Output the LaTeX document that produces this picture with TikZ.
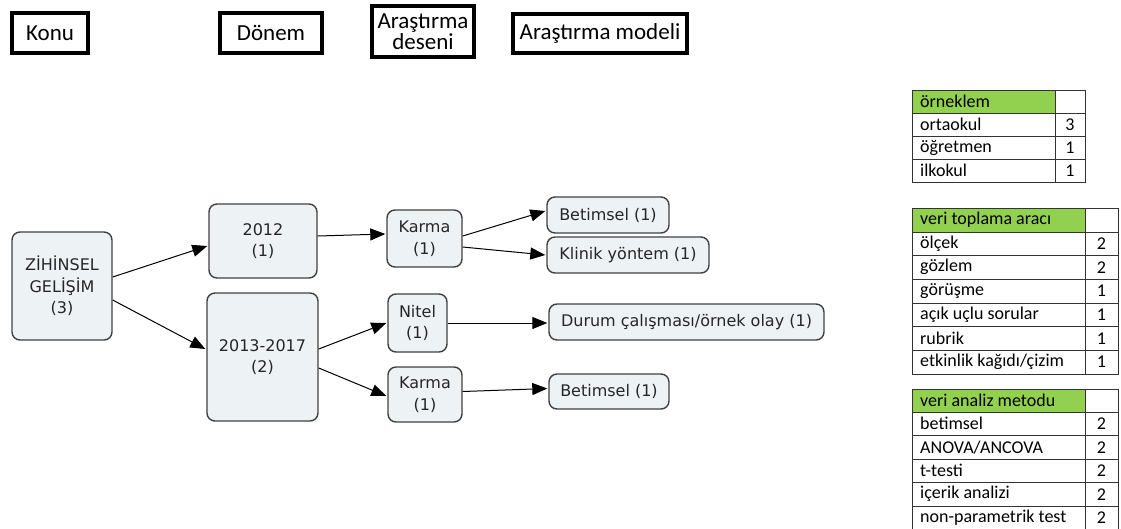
\documentclass[tikz,border=0pt]{standalone}
\usepackage{fontspec}
\setmainfont{Carlito}
\newfontfamily\nodefont{DejaVu Sans}
\usetikzlibrary{arrows.meta,calc}
\definecolor{nodefill}{HTML}{EDF2F5}
\definecolor{nodeline}{HTML}{404040}
\definecolor{hdrgreen}{HTML}{92D050}
\begin{document}
\begin{tikzpicture}[x=1pt,y=-1pt,
  hdrbox/.style={draw=black,line width=3.8pt,inner sep=0pt,font=\fontsize{23}{24}\selectfont,align=center},
  concept/.style={draw=nodeline,fill=nodefill,line width=1.4pt,rounded corners=8pt,inner sep=0pt,align=center,text=black!85,font=\nodefont\fontsize{16}{21.5}\selectfont},
  link/.style={line width=1pt,-{Triangle[length=15pt,width=12pt]}},
  cell/.style={draw=black!80,line width=1pt},
  celltext/.style={anchor=west,inner sep=0pt,font=\fontsize{18}{19}\selectfont},
  cellnum/.style={inner sep=0pt,font=\fontsize{18}{19}\selectfont}]
\useasboundingbox (0,0) rectangle (1121,528);

% header boxes
\node[hdrbox,minimum width=76pt,minimum height=40pt] (konu) at (50,33) {Konu};
\node[hdrbox,minimum width=102pt,minimum height=40pt] (donem) at (271,33) {Dönem};
\node[hdrbox,minimum width=102pt,minimum height=51pt] (desen) at (423,31.5) {Araştırma\\[-3pt]deseni};
\node[hdrbox,minimum width=174pt,minimum height=39pt] (model) at (600,33.5) {Araştırma modeli};

% concept nodes
\node[concept,minimum width=100pt,minimum height=108pt] (zg) at (62,286) {ZİHİNSEL\\GELİŞİM\\(3)};
\node[concept,minimum width=108pt,minimum height=74pt] (d1) at (263,241) {2012\\(1)};
\node[concept,minimum width=111pt,minimum height=128pt] (d2) at (262.5,357) {2013-2017\\(2)};
\node[concept,minimum width=75pt,minimum height=57pt] (k1) at (424.5,238.5) {Karma\\(1)};
\node[concept,minimum width=59pt,minimum height=58pt] (nit) at (417.5,323) {Nitel\\(1)};
\node[concept,minimum width=74pt,minimum height=55pt] (k2) at (425,394.5) {Karma\\(1)};
\node[concept,minimum width=122pt,minimum height=36pt] (b1) at (608,215) {Betimsel (1)};
\node[concept,minimum width=162pt,minimum height=36pt] (kl) at (628,255) {Klinik yöntem (1)};
\node[concept,minimum width=275pt,minimum height=36pt] (du) at (686.5,322) {Durum çalışması/örnek olay (1)};
\node[concept,minimum width=120pt,minimum height=35pt] (b2) at (609,391.5) {Betimsel (1)};

% connectors
\draw[link] ($(zg.east)+(0,-9)$) -- ($(d1.west)+(-1,5)$);
\draw[link] ($(zg.east)+(0,14)$) -- ($(d2.west)+(-1,-8)$);
\draw[link] ($(d1.east)+(0,-5)$) -- ($(k1.west)+(-1,-4.5)$);
\draw[link] ($(k1.east)+(0,-2.5)$) -- ($(b1.west)+(-1,-4)$);
\draw[link] ($(k1.east)+(0,8.5)$) -- ($(kl.west)+(-1,0)$);
\draw[link] ($(d2.east)+(0,-8)$) -- ($(nit.west)+(-1,0)$);
\draw[link] ($(d2.east)+(0,11)$) -- ($(k2.west)+(-1,1.5)$);
\draw[link] (nit.east) -- ($(du.west)+(-1,1)$);
\draw[link] ($(k2.east)+(0,-3)$) -- ($(b2.west)+(-1,-3)$);

% table 1: örneklem
\fill[hdrgreen] (912,90) rectangle (1055,113);
\foreach \ya/\yb in {90/113,113/136,136/159,159/182}{
  \draw[cell] (912,\ya) rectangle (1055,\yb);
  \draw[cell] (1055,\ya) rectangle (1085,\yb);
}
\node[celltext] (t1h) at (920,101.5) {örneklem};
\node[celltext] (t1a) at (920,124.5) {ortaokul};
\node[cellnum] (t1an) at (1070,124.5) {3};
\node[celltext] (t1b) at (920,147.5) {öğretmen};
\node[cellnum] (t1bn) at (1070,147.5) {1};
\node[celltext] (t1c) at (920,170.5) {ilkokul};
\node[cellnum] (t1cn) at (1070,170.5) {1};

% table 2: veri toplama aracı
\fill[hdrgreen] (912,208) rectangle (1085,232);
\foreach \ya/\yb in {208/232,232/255.5,255.5/279,279/303,303/326.5,326.5/350,350/374}{
  \draw[cell] (912,\ya) rectangle (1085,\yb);
  \draw[cell] (1085,\ya) rectangle (1118,\yb);
}
\node[celltext] (t2h) at (920,220) {veri toplama aracı};
\node[celltext] (t2a) at (920,243.75) {ölçek};
\node[cellnum] (t2an) at (1101.5,243.75) {2};
\node[celltext] (t2b) at (920,267.25) {gözlem};
\node[cellnum] (t2bn) at (1101.5,267.25) {2};
\node[celltext] (t2c) at (920,291) {görüşme};
\node[cellnum] (t2cn) at (1101.5,291) {1};
\node[celltext] (t2d) at (920,314.75) {açık uçlu sorular};
\node[cellnum] (t2dn) at (1101.5,314.75) {1};
\node[celltext] (t2e) at (920,338.25) {rubrik};
\node[cellnum] (t2en) at (1101.5,338.25) {1};
\node[celltext] (t2f) at (920,362) {etkinlik kağıdı/çizim};
\node[cellnum] (t2fn) at (1101.5,362) {1};

% table 3: veri analiz metodu
\fill[hdrgreen] (912,389) rectangle (1085,412);
\foreach \ya/\yb in {389/412,412/435.5,435.5/459,459/482.5,482.5/506,506/529.5}{
  \draw[cell] (912,\ya) rectangle (1085,\yb);
  \draw[cell] (1085,\ya) rectangle (1118,\yb);
}
\node[celltext] (t3h) at (920,400.5) {veri analiz metodu};
\node[celltext] (t3a) at (920,423.75) {betimsel};
\node[cellnum] (t3an) at (1101.5,423.75) {2};
\node[celltext] (t3b) at (920,447.25) {ANOVA/ANCOVA};
\node[cellnum] (t3bn) at (1101.5,447.25) {2};
\node[celltext] (t3c) at (920,470.75) {t-testi};
\node[cellnum] (t3cn) at (1101.5,470.75) {2};
\node[celltext] (t3d) at (920,494.25) {içerik analizi};
\node[cellnum] (t3dn) at (1101.5,494.25) {2};
\node[celltext] (t3e) at (920,517.75) {non-parametrik test};
\node[cellnum] (t3en) at (1101.5,517.75) {2};
\end{tikzpicture}
\end{document}
